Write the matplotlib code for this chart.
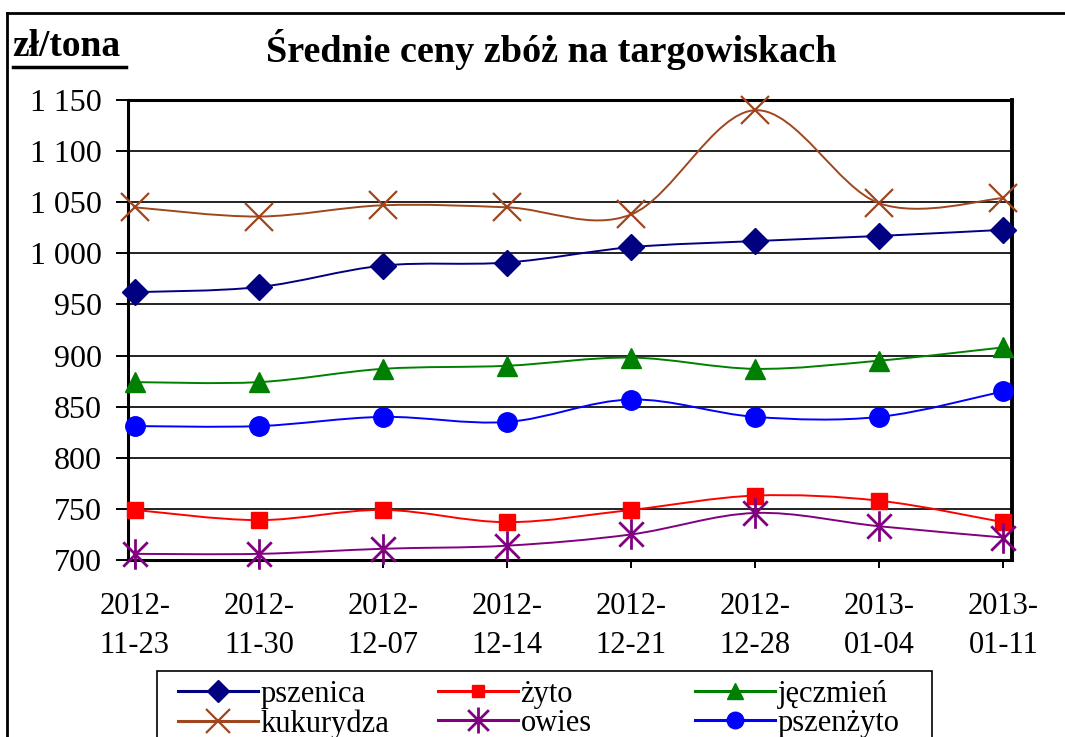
import matplotlib
matplotlib.use("Agg")
import matplotlib.pyplot as plt
from matplotlib.path import Path
from matplotlib.patches import PathPatch, Rectangle
from matplotlib.lines import Line2D

plt.rcParams['font.family'] = ['Liberation Serif', 'DejaVu Serif']

# data (zl/tona)
dates = ['2012-\n11-23', '2012-\n11-30', '2012-\n12-07', '2012-\n12-14',
         '2012-\n12-21', '2012-\n12-28', '2013-\n01-04', '2013-\n01-11']
pszenica = [962, 967, 988, 991, 1006, 1012, 1017, 1023]
kukurydza = [1045, 1036, 1047, 1045, 1038, 1140, 1049, 1054]
jeczmien = [874, 874, 887, 890, 898, 887, 895, 908]
pszenzyto = [831, 831, 840, 835, 857, 840, 840, 865]
zyto = [749, 739, 749, 737, 749, 763, 758, 737]
owies = [706, 706, 711, 714, 725, 746, 733, 722]
yticks = [700, 750, 800, 850, 900, 950, 1000, 1050, 1100, 1150]

# Excel-like star marker: X with a vertical bar
star = Path([(-1, -1), (1, 1), (-1, 1), (1, -1), (0, -1.25), (0, 1.25)],
            [Path.MOVETO, Path.LINETO, Path.MOVETO, Path.LINETO, Path.MOVETO, Path.LINETO])


def smooth_path(xs, ys):
    # bezier segments like Excel "smoothed line"
    pts = list(zip(xs, ys))
    verts = [pts[0]]
    codes = [Path.MOVETO]
    n = len(pts)
    for i in range(n - 1):
        p0 = pts[i - 1] if i > 0 else pts[i]
        p1 = pts[i]
        p2 = pts[i + 1]
        p3 = pts[i + 2] if i + 2 < n else pts[i + 1]
        c1 = (p1[0] + (p2[0] - p0[0]) / 6, p1[1] + (p2[1] - p0[1]) / 6)
        c2 = (p2[0] - (p3[0] - p1[0]) / 6, p2[1] - (p3[1] - p1[1]) / 6)
        verts += [c1, c2, p2]
        codes += [Path.CURVE4] * 3
    return Path(verts, codes)


series = [
    ('pszenica', pszenica, '#000080', 'D', 13, 1.0),
    ('kukurydza', kukurydza, '#A0461E', 'x', 20, 1.6),
    ('żyto', zyto, '#FF0000', 's', 11, 1.0),
    ('owies', owies, '#800080', star, 22, 2.0),
    ('jęczmień', jeczmien, '#008000', '^', 14, 1.0),
    ('pszenżyto', pszenzyto, '#0000FF', 'o', 14, 1.0),
]

fig = plt.figure(figsize=(10.65, 7.37), dpi=100)
ax = fig.add_axes([128 / 1065, 1 - 560 / 737, 884 / 1065, 460 / 737])

x = list(range(len(dates)))
handles = []
for name, vals, col, mk, ms, mew in series:
    ax.add_patch(PathPatch(smooth_path(x, vals), facecolor='none', edgecolor=col,
                           lw=1.4, zorder=3))
    ax.plot(x, vals, ls='none', marker=mk, ms=ms, color=col, mec=col, mew=mew,
            clip_on=False, zorder=4)
    handles.append(Line2D([], [], color=col, lw=2.2, marker=mk, ms=ms * 0.85,
                          mec=col, mew=mew))

ax.set_xlim(-0.055, 7.07)
ax.set_ylim(700, 1150)
ax.set_yticks(yticks)
ax.set_yticklabels([f'{v:,}'.replace(',', ' ') for v in yticks])
ax.set_xticks(x)
ax.set_xticklabels(dates, linespacing=1.45)
ax.grid(axis='y', color='#222222', lw=1.4)
ax.set_axisbelow(True)
for s in ax.spines.values():
    s.set_linewidth(2.2)
ax.spines['right'].set_linewidth(2.8)
ax.tick_params(axis='y', direction='out', length=9, width=1.4, labelsize=23, pad=10)
ax.tick_params(axis='x', direction='out', length=6, width=1.4, labelsize=22, pad=17)

fig.text(551 / 1065, 1 - 50 / 737, 'Średnie ceny zbóż na targowiskach',
         ha='center', va='center', fontsize=27.5, fontweight='bold')
fig.text(12 / 1065, 1 - 46 / 737, 'zł/tona', ha='left', va='center',
         fontsize=27, fontweight='bold')
fig.add_artist(Line2D([13 / 1065, 126 / 1065], [1 - 67 / 737, 1 - 67 / 737],
                      transform=fig.transFigure, color='black', lw=2.5))

# outer frame of the picture
fig.add_artist(Line2D([7 / 1065, 1.0], [1 - 13 / 737, 1 - 13 / 737],
                      transform=fig.transFigure, color='black', lw=2))
fig.add_artist(Line2D([7 / 1065, 7 / 1065], [1 - 13 / 737, 0],
                      transform=fig.transFigure, color='black', lw=2))

# legend: three equal-width columns inside one box, like Excel
fig.add_artist(Rectangle((157 / 1065, -0.05), (932 - 157) / 1065, 0.05 + 1 - 671 / 737,
                         transform=fig.transFigure, facecolor='white',
                         edgecolor='black', lw=1.2, zorder=5))
col_x = [172, 432, 689]
for c in range(3):
    leg = fig.legend(handles[2 * c:2 * c + 2], [s[0] for s in series[2 * c:2 * c + 2]],
                     ncol=1, loc='upper left',
                     bbox_to_anchor=(col_x[c] / 1065, 1 - 674 / 737),
                     fontsize=22, frameon=False, handlelength=2.6,
                     handletextpad=0.1, labelspacing=0.0, borderpad=0.2,
                     borderaxespad=0)
    leg.set_zorder(6)

fig.savefig('out.png', dpi=100)
